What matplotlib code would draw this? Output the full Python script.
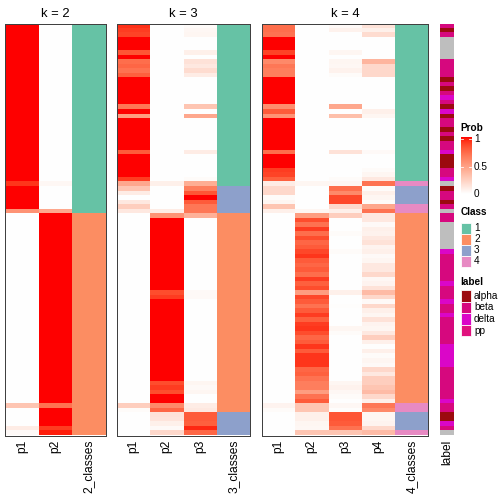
import numpy as np
import matplotlib
matplotlib.use("Agg")
import matplotlib.pyplot as plt
from matplotlib.colors import ListedColormap, to_rgb
from matplotlib.patches import Rectangle

plt.rcParams['font.family'] = ['Liberation Sans', 'DejaVu Sans']

# ---- data (one value per sample row, top to bottom) ----
k2_p1 = [1, 1, 1, 1, 1, 1, 1, 1, 1, 1,
         1, 1, 1, 1, 1, 1, 1, 1, 1, 1,
         1, 1, 1, 1, 1, 1, 1, 1, 1, 1,
         1, 1, 1, 1, 1, 0.92, 1, 1, 1, 1,
         1, 0.55, 0, 0, 0, 0, 0, 0, 0, 0,
         0, 0, 0, 0, 0, 0, 0, 0, 0, 0,
         0, 0, 0, 0, 0, 0, 0, 0, 0, 0,
         0, 0, 0, 0, 0, 0, 0, 0, 0, 0,
         0, 0, 0, 0, 0.3, 0, 0, 0, 0, 0.1,
         0.03]
k2_p2 = [0, 0, 0, 0, 0, 0, 0, 0, 0, 0,
         0, 0, 0, 0, 0, 0, 0, 0, 0, 0,
         0, 0, 0, 0, 0, 0, 0, 0, 0, 0,
         0, 0, 0, 0, 0, 0.04, 0, 0, 0, 0,
         0, 0.45, 1, 1, 1, 1, 1, 1, 1, 1,
         1, 1, 1, 1, 1, 1, 1, 1, 1, 1,
         1, 1, 1, 1, 1, 1, 1, 1, 1, 1,
         1, 1, 1, 1, 1, 1, 1, 1, 1, 1,
         1, 1, 1, 1, 0.7, 1, 1, 1, 1, 0.9,
         0.97]
k2_class = [1] * 42 + [2] * 49

k3_p1 = [0.93, 0.9, 0.88, 1, 1, 1, 0.82, 1, 0.72, 0.75,
         0.7, 0.78, 1, 1, 1, 1, 1, 1, 0.68, 1,
         0.5, 1, 1, 1, 1, 1, 1, 1, 0.8, 1,
         1, 1, 1, 1, 0.9, 0.45, 0.3, 0.1, 0, 0.12,
         0.25, 0.12, 0, 0, 0, 0, 0, 0, 0, 0,
         0, 0, 0, 0, 0, 0, 0, 0, 0, 0,
         0, 0, 0, 0, 0, 0, 0, 0, 0, 0,
         0, 0, 0, 0, 0, 0, 0, 0, 0, 0,
         0, 0, 0, 0, 0.25, 0.02, 0, 0, 0, 0,
         0]
k3_p2 = [0, 0, 0, 0, 0, 0, 0, 0, 0, 0,
         0, 0, 0, 0, 0, 0, 0, 0, 0, 0,
         0, 0, 0, 0, 0, 0, 0, 0, 0, 0,
         0, 0, 0, 0, 0, 0.08, 0, 0, 0, 0,
         0, 0.1, 0.55, 1, 1, 1, 1, 1, 1, 1,
         1, 1, 1, 1, 1, 1, 1, 1, 1, 0.85,
         0.9, 1, 1, 1, 1, 1, 1, 1, 1, 1,
         1, 1, 1, 1, 1, 1, 1, 1, 1, 0.85,
         0.9, 0.85, 1, 1, 0.6, 0.75, 0.15, 0.14, 0.08, 0.03,
         0.2]
k3_p3 = [0.02, 0.04, 0.05, 0, 0, 0, 0.08, 0, 0.15, 0.12,
         0.18, 0.1, 0, 0, 0, 0, 0, 0, 0.3, 0,
         0.45, 0, 0, 0, 0, 0, 0, 0, 0.1, 0,
         0, 0, 0, 0, 0.02, 0.42, 0.65, 0.82, 1, 0.8,
         0.68, 0.68, 0.4, 0, 0, 0, 0, 0, 0, 0,
         0, 0, 0, 0, 0, 0, 0, 0, 0, 0.03,
         0.03, 0, 0, 0, 0, 0, 0, 0, 0, 0,
         0, 0, 0, 0, 0, 0, 0, 0, 0, 0.05,
         0.03, 0.05, 0, 0, 0.1, 0.12, 0.8, 0.8, 0.78, 0.95,
         0.75]
k3_class = [1] * 36 + [3] * 6 + [2] * 44 + [3] * 5

k4_p1 = [0.72, 0.72, 0.7, 1, 1, 1, 0.88, 1, 0.6, 0.68,
         0.65, 0.65, 1, 1, 1, 1, 1, 1, 0.58, 0.8,
         0.55, 1, 1, 1, 1, 1, 1, 1, 0.72, 1,
         1, 1, 0.9, 0.88, 0.78, 0.1, 0.2, 0.2, 0.02, 0.05,
         0.3, 0.08, 0, 0, 0, 0, 0, 0, 0, 0,
         0, 0, 0, 0, 0, 0, 0, 0, 0, 0,
         0, 0, 0, 0, 0, 0, 0, 0, 0, 0,
         0, 0, 0, 0, 0, 0, 0, 0, 0, 0,
         0, 0, 0, 0, 0.06, 0.02, 0, 0, 0, 0,
         0]
k4_p2 = [0, 0, 0, 0, 0, 0, 0, 0, 0, 0,
         0, 0, 0, 0, 0, 0, 0, 0, 0, 0,
         0, 0, 0, 0, 0, 0, 0, 0, 0, 0,
         0, 0, 0, 0, 0, 0.05, 0, 0, 0, 0,
         0, 0.05, 0.5, 0.85, 0.7, 0.9, 0.72, 0.85, 0.75, 0.8,
         0.87, 0.92, 0.8, 0.75, 0.8, 0.72, 0.9, 0.78, 0.85, 0.5,
         0.87, 0.8, 0.7, 0.8, 0.9, 0.78, 0.9, 0.92, 0.85, 0.75,
         0.8, 0.92, 0.8, 0.92, 0.92, 0.92, 0.75, 0.78, 0.7, 0.65,
         0.65, 0.5, 0.7, 0.8, 0.3, 0.3, 0.08, 0.08, 0.05, 0.04,
         0.3]
k4_p3 = [0.03, 0.07, 0, 0, 0, 0, 0.05, 0, 0.05, 0.04,
         0.07, 0.02, 0, 0, 0, 0, 0, 0, 0.45, 0,
         0.33, 0, 0, 0, 0, 0, 0, 0, 0.15, 0,
         0, 0, 0, 0, 0.02, 0.05, 0.72, 0.6, 0.87, 0.87,
         0.2, 0.08, 0.25, 0, 0, 0, 0.02, 0, 0, 0,
         0.02, 0, 0, 0, 0, 0, 0, 0, 0, 0.08,
         0, 0, 0.01, 0, 0, 0, 0, 0.05, 0.02, 0,
         0, 0, 0, 0, 0, 0, 0, 0, 0, 0.05,
         0.07, 0.04, 0.02, 0, 0.04, 0.01, 0.82, 0.82, 0.8, 0.7,
         0.3]
k4_p4 = [0.15, 0.08, 0.18, 0, 0, 0, 0, 0, 0.38, 0.2,
         0.2, 0.2, 0, 0, 0, 0, 0, 0, 0, 0.08,
         0.05, 0, 0, 0, 0, 0, 0, 0, 0.03, 0,
         0, 0, 0.02, 0.05, 0.12, 0.7, 0.02, 0.08, 0.05, 0.02,
         0.45, 0.7, 0.12, 0.12, 0.03, 0.08, 0.07, 0.12, 0.15, 0.06,
         0.08, 0.03, 0.05, 0.12, 0.12, 0.2, 0.04, 0.06, 0.15, 0.35,
         0.2, 0.03, 0.2, 0.08, 0.05, 0.15, 0.06, 0.05, 0.12, 0.25,
         0.08, 0.01, 0.08, 0.02, 0.05, 0.03, 0.2, 0.12, 0.25, 0.25,
         0.3, 0.35, 0.2, 0.08, 0.68, 0.6, 0.05, 0.05, 0.06, 0.2,
         0.35]
k4_class = [1] * 35 + [4] + [3] * 4 + [4] * 2 + [2] * 42 + [4] * 2 + [3] * 4 + [4]

labels = ["beta", "alpha", "beta", "NA", "NA", "NA", "NA", "NA", "beta", "beta",
          "beta", "beta", "alpha", "beta", "alpha", "beta", "delta", "beta", "alpha", "delta",
          "alpha", "beta", "beta", "alpha", "beta", "alpha", "beta", "beta", "delta", "alpha",
          "alpha", "alpha", "beta", "beta", "delta", "NA", "alpha", "beta", "beta", "alpha",
          "beta", "NA", "beta", "beta", "NA", "NA", "NA", "NA", "NA", "NA",
          "delta", "beta", "beta", "beta", "beta", "beta", "beta", "delta", "beta", "beta",
          "beta", "delta", "beta", "beta", "delta", "beta", "beta", "beta", "beta", "beta",
          "beta", "delta", "delta", "delta", "delta", "delta", "beta", "beta", "beta", "beta",
          "beta", "beta", "beta", "delta", "beta", "beta", "alpha", "alpha", "delta", "beta",
          "NA"]

class_colors = {1: "#66C2A5", 2: "#FC8D62", 3: "#8DA0CB", 4: "#E78AC3"}
label_colors = {"alpha": "#9B0A0F", "beta": "#D6087E", "delta": "#DA06C8",
                "pp": "#E0127E", "NA": "#BEBEBE"}


# white -> red ramp interpolated in LAB space
M = np.array([[0.4124, 0.3576, 0.1805],
              [0.2126, 0.7152, 0.0722],
              [0.0193, 0.1192, 0.9505]])
WP = np.array([0.95047, 1.0, 1.08883])


def to_lab(c):
    rgb = np.array(to_rgb(c))
    lin = np.where(rgb <= 0.04045, rgb / 12.92, ((rgb + 0.055) / 1.055) ** 2.4)
    xyz = M @ lin / WP
    f = np.where(xyz > 0.008856, np.cbrt(xyz), 7.787 * xyz + 16 / 116)
    return np.array([116 * f[1] - 16, 500 * (f[0] - f[1]), 200 * (f[1] - f[2])])


def from_lab(lab):
    fy = (lab[:, 0] + 16) / 116
    f = np.stack([fy + lab[:, 1] / 500, fy, fy - lab[:, 2] / 200], -1)
    xyz = np.where(f ** 3 > 0.008856, f ** 3, (f - 16 / 116) / 7.787) * WP
    lin = np.clip(xyz @ np.linalg.inv(M).T, 0, 1)
    return np.where(lin <= 0.0031308, 12.92 * lin, 1.055 * lin ** (1 / 2.4) - 0.055)


t = np.linspace(0, 1, 256)[:, None]
prob_cmap = ListedColormap(from_lab(to_lab("white") * (1 - t) + to_lab("red") * t))

W = H = 504
fig = plt.figure(figsize=(7, 7), dpi=72)


def px_axes(x0, y0, x1, y1):
    return fig.add_axes([x0 / W, 1 - y1 / H, (x1 - x0) / W, (y1 - y0) / H])


top, bottom = 24, 435.5
panels = [
    ("k = 2", [k2_p1, k2_p2], k2_class, 5.3, 105.6),
    ("k = 3", [k3_p1, k3_p2, k3_p3], k3_class, 116.7, 250),
    ("k = 4", [k4_p1, k4_p2, k4_p3, k4_p4], k4_class, 261.7, 428.4),
]
n = len(labels)

for title, probs, cls, x0, x1 in panels:
    k = len(probs)
    ax = px_axes(x0, top, x1, bottom)
    img = np.zeros((n, k + 1, 3))
    for j, p in enumerate(probs):
        img[:, j, :] = prob_cmap(np.array(p, dtype=float))[:, :3]
    img[:, k, :] = [to_rgb(class_colors[c]) for c in cls]
    ax.imshow(img, aspect="auto", interpolation="nearest", extent=(0, k + 1, n, 0))
    ax.set_xlim(0, k + 1)
    ax.set_ylim(n, 0)
    ax.set_xticks(np.arange(k + 1) + 0.5)
    ax.set_xticklabels([f"p{j + 1}" for j in range(k)] + [f"{k}_classes"],
                       rotation=90, fontsize=12)
    ax.tick_params(axis="x", length=0, pad=4)
    ax.set_yticks([])
    for s in ax.spines.values():
        s.set_color("#404040")
        s.set_linewidth(1)
    ax.set_title(title, fontsize=13, pad=7)

# label annotation column
axl = px_axes(440, top, 454, bottom)
limg = np.array([[to_rgb(label_colors[l])] for l in labels])
axl.imshow(limg, aspect="auto", interpolation="nearest", extent=(0, 1, n, 0))
axl.set_xticks([0.5])
axl.set_xticklabels(["label"], rotation=90, fontsize=12)
axl.tick_params(axis="x", length=0, pad=4)
axl.set_yticks([])
for s in axl.spines.values():
    s.set_visible(False)

# legends, drawn in pixel coordinates
lg = fig.add_axes([0, 0, 1, 1])
lg.set_xlim(0, W)
lg.set_ylim(H, 0)
lg.axis("off")

lx = 460.5
lg.text(lx, 128, "Prob", fontsize=10, fontweight="bold", va="center")
grad = np.linspace(1, 0, 100)[:, None]
lg.imshow(grad, cmap=prob_cmap, vmin=0, vmax=1, aspect="auto",
          extent=(lx, lx + 10.5, 194, 137))
for v, yy in [(1, 139), (0.5, 166.5), (0, 194)]:
    lg.text(lx + 13.5, yy, str(v), fontsize=10, va="center")
for yy in [139, 166.5]:
    lg.plot([lx, lx + 2], [yy, yy], color="white", lw=0.8)
    lg.plot([lx + 8.5, lx + 10.5], [yy, yy], color="white", lw=0.8)

lg.text(lx, 212, "Class", fontsize=10, fontweight="bold", va="center")
for i, c in enumerate([1, 2, 3, 4]):
    yc = 228 + 11 * i
    lg.add_patch(Rectangle((lx, yc - 5.5), 10.5, 11, facecolor=class_colors[c],
                           edgecolor="white", lw=0.8))
    lg.text(lx + 13.5, yc, str(c), fontsize=10, va="center")

lg.text(lx, 282, "label", fontsize=10, fontweight="bold", va="center")
for i, name in enumerate(["alpha", "beta", "delta", "pp"]):
    yc = 296 + 11.5 * i
    lg.add_patch(Rectangle((lx, yc - 5.75), 10.5, 11.5, facecolor=label_colors[name],
                           edgecolor="white", lw=0.8))
    lg.text(lx + 13.5, yc, name, fontsize=10, va="center")
lg.set_xlim(0, W)
lg.set_ylim(H, 0)

fig.savefig("out.png", dpi=72)
